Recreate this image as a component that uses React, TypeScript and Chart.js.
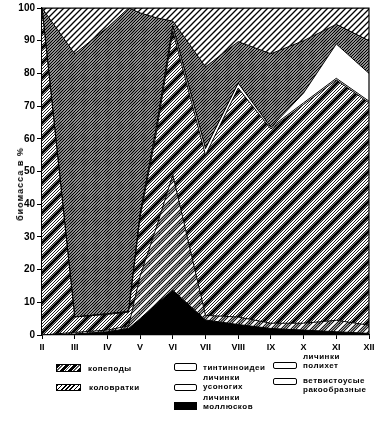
import React, { useEffect, useRef } from 'react';
import { Chart, registerables } from 'chart.js';
Chart.register(...registerables);

// month tick labels (linear x axis, II = 2 ... XII = 12)
const monthLabels = ['II', 'III', 'IV', 'V', 'VI', 'VII', 'VIII', 'IX', 'X', 'XI', 'XII'];
const firstMonth = 2;
// sampling positions along the year (month number)
const samplePositions = [2, 3, 4, 4.65, 5, 5.5, 6, 7, 8, 9, 10, 11, 12];

// biomass share, % (stacked bottom -> top)
const molluscLarvae = [0, 0.3, 1, 2, 5, 9.5, 13.7, 4.6, 3.2, 2, 1.5, 1, 0.5];
const barnacleLarvae = [0, 0.5, 0.5, 0.8, 13, 23.5, 35.3, 1.4, 2.3, 1.6, 2.1, 3.5, 2.5];
const copepods = [100, 4.7, 4.8, 4.2, 18, 29, 44, 49, 70, 59.4, 66.9, 73.5, 68];
const tintinnids = [0, 0, 0.2, 0.2, 1, 1.5, 1.5, 2, 1.5, 0.5, 0.5, 0.5, 0.5];
const polychaeteLarvae = [0, 0, 0, 0, 0, 0, 0, 0, 0, 0, 3, 10.5, 8.5];
const rotifers = [0, 80.5, 87.5, 92.8, 61.5, 33.5, 1.5, 25, 12.7, 22.5, 16, 6, 10];
const cladocerans = [0, 14, 6, 0, 1.5, 3, 4, 18, 10.3, 14, 10, 5, 10];

const yTicks = [0, 10, 20, 30, 40, 50, 60, 70, 80, 90, 100];

type LineSpec = { offset: number; period: number; width: number; color: string };

function makeHatch(tile: number, lines: LineSpec[], bg = '#fff'): CanvasPattern | string {
  const c = document.createElement('canvas');
  c.width = tile;
  c.height = tile;
  const ctx = c.getContext('2d');
  if (!ctx) return bg;
  ctx.fillStyle = bg;
  ctx.fillRect(0, 0, tile, tile);
  for (const l of lines) {
    ctx.strokeStyle = l.color;
    ctx.lineWidth = l.width;
    for (let k = -3 * tile + l.offset; k <= 4 * tile; k += l.period) {
      ctx.beginPath();
      ctx.moveTo(k + 2 * tile, -2 * tile);
      ctx.lineTo(k - 2 * tile, 2 * tile);
      ctx.stroke();
    }
  }
  const p = ctx.createPattern(c, 'repeat');
  return p || bg;
}

const framePlugin = {
  id: 'frame',
  afterDatasetsDraw(chart: any) {
    const { ctx, chartArea } = chart;
    ctx.save();
    ctx.strokeStyle = '#000';
    ctx.lineWidth = 1.2;
    ctx.beginPath();
    ctx.moveTo(chartArea.left, chartArea.top);
    ctx.lineTo(chartArea.right, chartArea.top);
    ctx.lineTo(chartArea.right, chartArea.bottom);
    ctx.stroke();
    ctx.restore();
  },
};

const legendFont = "bold 8px 'Liberation Sans', Arial, sans-serif";

const Swatch = ({ x, y, w, h, bg, round }: any) => (
  <div
    style={{
      position: 'absolute',
      left: x,
      top: y,
      width: w,
      height: h,
      boxSizing: 'border-box',
      border: '1.5px solid #000',
      borderRadius: round ? 2 : 0,
      background: bg,
    }}
  />
);

const Label = ({ x, y, lines }: any) => (
  <div
    style={{
      position: 'absolute',
      left: x,
      top: y,
      font: legendFont,
      letterSpacing: '0.5px',
      lineHeight: '9px',
      color: '#000',
      whiteSpace: 'nowrap',
    }}
  >
    {lines.map((t: string, i: number) => (
      <div key={i}>{t}</div>
    ))}
  </div>
);

export default function App() {
  const canvasRef = useRef<HTMLCanvasElement | null>(null);

  useEffect(() => {
    if (!canvasRef.current) return;
    const copepodPat = makeHatch(15, [
      { offset: 0, period: 3, width: 1.0, color: '#222' },
      { offset: 0, period: 15, width: 2.8, color: '#000' },
    ]);
    const rotiferPat = makeHatch(12, [{ offset: 0, period: 3, width: 1.3, color: '#000' }]);
    const cladoPat = makeHatch(12, [{ offset: 0, period: 6, width: 1.3, color: '#000' }]);
    const barnaclePat = makeHatch(10, [
      { offset: 0, period: 10, width: 1.1, color: '#000' },
      { offset: 2.5, period: 10, width: 1.1, color: '#000' },
      { offset: 5, period: 10, width: 1.1, color: '#000' },
    ]);

    const mk = (label: string, values: number[], bg: any, fill: any) => ({
      label,
      data: samplePositions.map((x, i) => ({ x, y: values[i] })),
      backgroundColor: bg,
      borderColor: '#000',
      borderWidth: 1,
      pointRadius: 0,
      tension: 0,
      fill,
    });

    const chart = new Chart(canvasRef.current, {
      type: 'line',
      data: {
        datasets: [
          mk('личинки моллюсков', molluscLarvae, '#000', 'origin'),
          mk('личинки усоногих', barnacleLarvae, barnaclePat, '-1'),
          mk('копеподы', copepods, copepodPat, '-1'),
          mk('тинтинноидеи', tintinnids, '#fff', '-1'),
          mk('личинки полихет', polychaeteLarvae, '#fff', '-1'),
          mk('коловратки', rotifers, rotiferPat, '-1'),
          mk('ветвистоусые ракообразные', cladocerans, cladoPat, '-1'),
        ],
      },
      options: {
        responsive: false,
        animation: false,
        devicePixelRatio: 1,
        layout: { padding: { top: 6, right: 13, left: 0, bottom: 0 } },
        plugins: { legend: { display: false }, tooltip: { enabled: false } },
        scales: {
          x: {
            type: 'linear',
            min: firstMonth,
            max: firstMonth + monthLabels.length - 1,
            grid: { drawOnChartArea: false, color: '#000', tickLength: 4 },
            border: { display: true, color: '#000', width: 1.2 },
            ticks: {
              stepSize: 1,
              autoSkip: false,
              maxRotation: 0,
              padding: 3,
              color: '#000',
              font: { family: "'Liberation Sans', Arial, sans-serif", size: 9, weight: 'bold' },
              callback: (v: any) =>
                Number.isInteger(v) ? monthLabels[v - firstMonth] ?? '' : '',
            },
            afterFit: (s: any) => {
              s.height = 20;
            },
          },
          y: {
            stacked: true,
            min: 0,
            max: 100,
            grid: { drawOnChartArea: false, color: '#000', tickLength: 5 },
            border: { display: true, color: '#000', width: 1.2 },
            afterBuildTicks: (s: any) => {
              s.ticks = yTicks.map((v) => ({ value: v }));
            },
            ticks: {
              padding: 2,
              color: '#000',
              font: { family: "'Liberation Sans', Arial, sans-serif", size: 10, weight: 'bold' },
            },
            afterFit: (s: any) => {
              s.width = 42;
            },
          },
        },
      },
      plugins: [framePlugin],
    } as any);
    return () => chart.destroy();
  }, []);

  const fine = 'repeating-linear-gradient(135deg, #000 0 1.2px, #fff 1.2px 3px)';
  const bold = 'repeating-linear-gradient(135deg, #000 0 2.5px, #fff 2.5px 3.5px, #555 3.5px 4.5px, #fff 4.5px 6px)';

  return (
    <div
      style={{
        position: 'fixed',
        left: 0,
        top: 0,
        width: 382,
        height: 421,
        background: '#fff',
        overflow: 'hidden',
      }}
    >
      <canvas
        ref={canvasRef}
        width={382}
        height={355}
        style={{ position: 'absolute', left: 0, top: 0, width: 382, height: 355 }}
      />
      <div
        style={{
          position: 'absolute',
          left: 20,
          top: 184,
          transform: 'translate(-50%, -50%) rotate(-90deg)',
          font: "bold 9px 'Liberation Sans', Arial, sans-serif",
          letterSpacing: '1px',
          whiteSpace: 'nowrap',
          color: '#000',
        }}
      >
        биомасса в %
      </div>

      <Swatch x={56} y={364} w={25} h={8} bg={bold} />
      <Label x={88} y={364} lines={['копеподы']} />
      <Swatch x={56} y={384} w={25} h={7} bg={fine} />
      <Label x={89} y={383} lines={['коловратки']} />

      <Swatch x={174} y={363} w={23} h={8} bg="#fff" round />
      <Label x={203} y={363} lines={['тинтинноидеи']} />
      <Swatch x={174} y={384} w={23} h={7} bg="#fff" round />
      <Label x={203} y={373} lines={['личинки', 'усоногих']} />
      <Swatch x={174} y={402} w={23} h={8} bg="#000" />
      <Label x={203} y={393} lines={['личинки', 'моллюсков']} />

      <Swatch x={273} y={362} w={24} h={7} bg="#fff" round />
      <Label x={303} y={352} lines={['личинки', 'полихет']} />
      <Swatch x={273} y={378} w={24} h={7} bg="#fff" round />
      <Label x={303} y={376} lines={['ветвистоусые', 'ракообразные']} />
    </div>
  );
}
